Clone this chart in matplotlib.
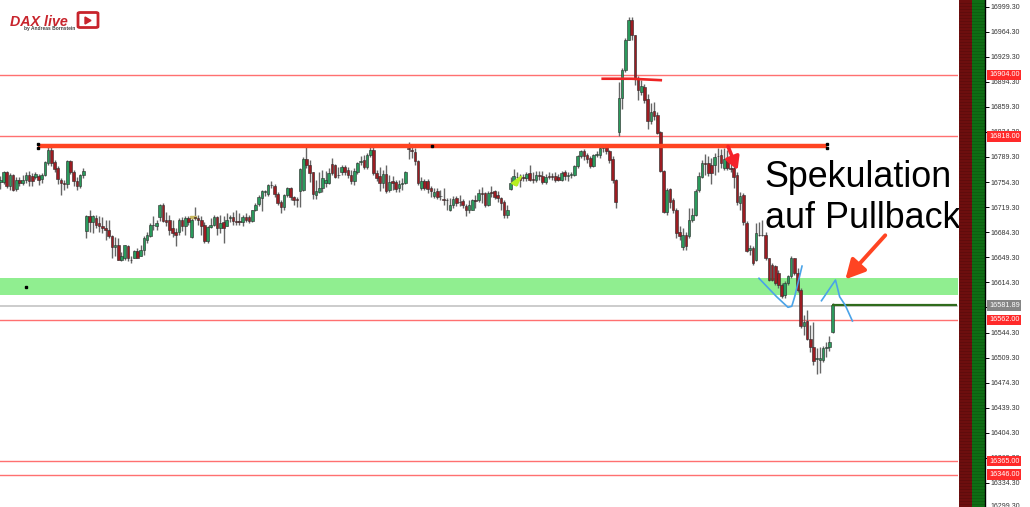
import numpy as np
import matplotlib
matplotlib.use("Agg")
import matplotlib.pyplot as plt
from matplotlib.patches import Polygon, Rectangle, FancyBboxPatch
from matplotlib.transforms import blended_transform_factory

opens = [
16754,16754,16768,16749,16764,16744,16757,16753,16757,16764,
16763,16761,16763,16758,16764,16781,16799,16782,16774,16757,
16753,16751,16784,16768,16756,16749,16764,16686,16707,16698,
16704,16697,16693,16690,16688,16679,16663,16667,16645,16649,
16665,16646,16649,16658,16651,16660,16673,16679,16694,16693,
16705,16722,16701,16701,16690,16684,16684,16701,16693,16704,16677,
16705,16704,16702,16695,16672,16691,16695,16705,16690,16698,16693,
16704,16705,16700,16700,16698,16705,16705,16700,16715,16723,16732,
16740,16737,16750,16749,16737,16726,16719,16736,16746,16733,
16730,16742,16743,16786,16778,16768,16736,16740,16746,16753,
16753,16779,16778,16764,16768,16775,16771,16764,16756,16768,
16782,16785,16775,16792,16799,16767,16763,16753,16765,16743,
16756,16754,16746,16751,16753,16802,16799,16796,16784,16746,
16756,16756,16746,16735,16742,16735,16730,16729,16716,
16722,16732,16726,16728,16721,16716,16716,16729,16729,
16739,16739,16722,16740,16742,16736,16732,16726,16709,
16744,16754,16761,16761,16761,16760,16767,16758,16757,16764,
16763,16754,16763,16763,16763,16761,16757,16768,16763,16764,16764,
16777,16791,16798,16792,16788,16777,16792,16792,16802,16803,
16798,16786,16757,16824,16872,16911,16953,16980,16959,16900,
16880,16887,16870,16840,16854,16848,16824,16770,16712,16744,
16729,16716,16684,16663,16680,16679,16702,16708,16743,
16761,16781,16781,16778,16778,16791,16792,16774,16785,16774,
16774,16764,16725,16736,16697,16659,16662,16646,16681,16681,
16681,16648,16639,16637,16628,16611,16596,16613,16623,16648,
16628,16604,16553,16560,16535,16524,16507,16506,16506,16523,
16524,16545]
closes = [
16757,16768,16749,16764,16743,16757,16753,16757,16764,16756,
16756,16765,16757,16764,16782,16799,16781,16772,16758,16753,
16751,16784,16768,16756,16749,16764,16770,16707,16698,16707,
16695,16693,16690,16688,16679,16663,16667,16646,16651,16666,
16648,16645,16658,16649,16660,16676,16680,16694,16695,16697,
16722,16700,16698,16688,16683,16681,16701,16693,16704,16698,16701,
16704,16702,16693,16672,16691,16695,16705,16690,16697,16690,16702,
16705,16700,16698,16699,16705,16702,16700,16715,16722,16733,16742,
16742,16750,16750,16737,16725,16719,16736,16746,16733,16729,
16729,16772,16786,16778,16767,16737,16742,16746,16760,16757,
16767,16767,16761,16764,16775,16768,16764,16756,16770,16781,
16784,16775,16792,16799,16767,16760,16753,16765,16742,16754,
16753,16744,16751,16753,16768,16800,16798,16784,16753,16756,
16746,16744,16742,16740,16733,16735,16729,16729,16722,
16730,16725,16726,16722,16716,16722,16729,16728,16739,
16738,16722,16739,16739,16733,16732,16725,16708,16716,
16753,16763,16761,16757,16760,16765,16757,16757,16764,16763,
16754,16761,16761,16761,16757,16757,16767,16763,16764,16765,16777,
16791,16798,16791,16786,16777,16792,16793,16802,16803,16798,
16785,16757,16726,16872,16911,16953,16980,16959,16900,16883,
16889,16869,16840,16852,16847,16823,16770,16712,16743,16726,
16715,16683,16679,16680,16665,16702,16708,16742,16763,
16781,16779,16767,16767,16789,16790,16781,16786,16774,16772,
16761,16726,16735,16698,16658,16662,16642,16683,16680,16680,
16648,16618,16617,16613,16610,16595,16613,16623,16648,16628,
16604,16553,16559,16535,16524,16504,16509,16509,16523,16524,
16531,16583]
highs = [
16763,16770,16770,16767,16765,16761,16761,16764,16768,16770,
16767,16768,16765,16767,16784,16803,16805,16785,16777,16760,
16757,16785,16785,16771,16761,16765,16774,16709,16715,16708,
16708,16707,16705,16702,16701,16681,16677,16676,16656,16667,
16667,16651,16659,16662,16667,16679,16684,16697,16707,16702,
16723,16725,16712,16709,16701,16690,16704,16705,16707,16707,16704,
16719,16709,16707,16698,16693,16704,16709,16707,16708,16707,16711,
16709,16712,16715,16711,16709,16711,16709,16716,16725,16736,16743,
16743,16751,16756,16751,16740,16729,16737,16747,16747,16735,
16733,16774,16789,16803,16785,16768,16757,16768,16771,16770,
16774,16788,16779,16775,16778,16778,16775,16771,16774,16782,
16791,16792,16795,16803,16803,16771,16775,16771,16778,16764,
16763,16757,16757,16760,16770,16810,16803,16802,16785,16761,
16758,16758,16749,16746,16746,16743,16746,16732,16732,
16735,16735,16736,16730,16723,16729,16730,16736,16744,
16747,16740,16742,16749,16743,16742,16733,16729,16722,
16761,16772,16768,16765,16765,16768,16778,16768,16770,16770,
16770,16765,16768,16767,16768,16765,16770,16771,16768,16768,16778,
16792,16799,16800,16795,16791,16793,16798,16805,16807,16806,
16799,16791,16758,16894,16914,16956,16984,16984,16959,16903,
16897,16891,16877,16865,16866,16852,16826,16771,16746,16746,
16732,16718,16693,16690,16684,16718,16718,16744,16768,
16785,16793,16791,16788,16795,16802,16800,16802,16799,16785,
16778,16768,16740,16739,16700,16667,16665,16697,16698,16701,
16684,16649,16642,16639,16631,16614,16616,16625,16651,16649,
16634,16606,16569,16576,16555,16559,16523,16524,16526,16531,
16539,16585]
lows = [
16744,16751,16746,16743,16742,16742,16749,16750,16753,16749,
16749,16758,16750,16753,16763,16778,16777,16768,16751,16736,
16743,16746,16765,16749,16743,16746,16760,16676,16684,16683,
16690,16684,16683,16673,16676,16648,16651,16645,16644,16646,
16644,16641,16648,16648,16651,16653,16669,16677,16687,16688,
16700,16698,16693,16680,16677,16665,16681,16686,16681,16694,16676,
16701,16695,16680,16669,16669,16690,16693,16680,16683,16669,16693,
16698,16695,16694,16695,16693,16698,16697,16698,16714,16721,16714,
16735,16735,16746,16733,16722,16711,16715,16733,16729,16722,
16719,16719,16742,16774,16754,16730,16730,16739,16740,16747,
16751,16764,16760,16760,16764,16764,16760,16751,16750,16765,
16778,16772,16772,16789,16764,16756,16742,16746,16739,16740,
16743,16740,16740,16743,16751,16786,16788,16778,16750,16743,
16743,16739,16733,16732,16730,16729,16722,16716,16714,
16718,16721,16721,16718,16707,16711,16715,16718,16726,
16725,16719,16721,16733,16730,16727,16716,16704,16704,
16743,16750,16750,16747,16756,16756,16756,16753,16754,16757,
16751,16751,16758,16757,16754,16756,16756,16757,16756,16760,16763,
16774,16788,16785,16781,16774,16775,16789,16788,16796,16793,
16781,16753,16718,16819,16856,16908,16952,16952,16890,16869,
16876,16865,16828,16835,16841,16821,16768,16711,16709,16718,
16711,16676,16673,16659,16660,16676,16698,16707,16740,
16760,16764,16763,16751,16764,16768,16774,16771,16771,16768,
16746,16722,16715,16694,16656,16652,16639,16644,16679,16679,
16645,16616,16616,16610,16606,16592,16593,16611,16620,16625,
16601,16551,16541,16534,16517,16499,16486,16488,16503,16510,
16518,16544]

tick_prices = [16999.30,16964.30,16929.30,16894.30,16859.30,16824.30,16789.30,
               16754.30,16719.30,16684.30,16649.30,16614.30,16579.30,16544.30,
               16509.30,16474.30,16439.30,16404.30,16369.30,16334.30,16299.30]
level_prices = [16904.00,16818.00,16562.00,16365.00,16346.00]
last_price = 16581.89
zone_low, zone_high = 16596.7, 16620.8
resistance_price = 16804.6
resistance_idx = [11.8, 135.3, 259.1]
stroke1_idx = [237.9, 243.5, 247.0, 248.2, 249.1, 251.4]
stroke1_price = [16620, 16594, 16579.5, 16581, 16594.3, 16637]
stroke2_idx = [257.5, 261.9, 263.2, 265.0, 267.2]
stroke2_price = [16588.7, 16617.6, 16594.3, 16582, 16560.4]

PRICE_TOP, PRICE_BOTTOM = 17008.4, 16300.8
W, H = 1030, 507
plt.rcParams['font.family'] = ['Liberation Sans', 'DejaVu Sans']

fig = plt.figure(figsize=(W/100, H/100), dpi=100, facecolor='white')
ax = fig.add_axes([0, 0, 958/W, 1])
strip = fig.add_axes([959/W, 0, 26/W, 1], sharey=ax)
ax.set_xlim(-0.1, 958/3.19)
ax.set_ylim(PRICE_BOTTOM, PRICE_TOP)
ax.axis('off')

# zones and levels
ax.axhspan(zone_low, zone_high, color='#90ee90', lw=0, zorder=1)
for p in level_prices:
    ax.axhline(p, color='#ff7070', lw=1.0, zorder=1.5)
ax.axhline(last_price, color='#c8c8c8', lw=1.3, zorder=1.5)

# candles
x = np.arange(len(opens))
o, c, h, l = map(np.array, (opens, closes, highs, lows))
assert len(o) == len(c) == len(h) == len(l)
ax.vlines(x, l, h, color='#666666', lw=1.0, zorder=2)
colors = np.where(c >= o, '#2a9a5c', '#9c1c22')
ax.bar(x, np.abs(c-o), bottom=np.minimum(o, c), width=0.82, color=colors,
       edgecolor='#2a2a2a', linewidth=0.4, zorder=3)

# marks
ax.add_patch(Rectangle((59.6, 16703.5), 1.8, 4, color='#c8b860', zorder=2.5))
ax.add_patch(Polygon([(160.3, 16752.6), (163.5, 16763), (161.9, 16748.8)],
                     closed=True, color='#b8f020', zorder=4))
ax.plot([x[-1]-0.3, 300], [last_price+0.7]*2, color='#2f6b1c', lw=1.6, zorder=4,
        solid_capstyle='butt')
ax.plot([resistance_idx[0], resistance_idx[-1]], [resistance_price]*2,
        color='#ff4422', lw=3.2, zorder=5, solid_capstyle='butt')
ax.plot([resistance_idx[0]]*2, [resistance_price+3, resistance_price-3], ls='none',
        marker='s', ms=1.9, color='black', zorder=6)
ax.plot([resistance_idx[-1]]*2, [resistance_price+3, resistance_price-3], ls='none',
        marker='s', ms=1.9, color='black', zorder=6)
ax.plot([resistance_idx[1]], [resistance_price], ls='none', marker='s', ms=1.9,
        color='black', zorder=6)
ax.plot([8.1], [16608], ls='none', marker='s', ms=1.6, color='black', zorder=6)
ax.plot([188.9, 198, 207.1], [16898.5, 16898.5, 16896.5], color='#ee2424', lw=1.9, zorder=5)
ax.plot(stroke1_idx, stroke1_price, color='#4aa3e8', lw=1.2, zorder=6)
ax.plot(stroke2_idx, stroke2_price, color='#4aa3e8', lw=1.2, zorder=6)
ax.annotate('', xy=(231.2, 16771), xytext=(228.2, 16804),
            arrowprops=dict(arrowstyle='-|>,head_width=0.42,head_length=0.75',
                            color='#f5222a', lw=2.6, shrinkA=0, shrinkB=0), zorder=6)
ax.annotate('', xy=(265.0, 16618.5), xytext=(277.5, 16680),
            arrowprops=dict(arrowstyle='-|>,head_width=0.6,head_length=1.15',
                            color='#ff4422', lw=2.8, shrinkA=0, shrinkB=0), zorder=6)
ax.text(239.7, 16747, 'Spekulation', fontsize=25.8, color='black', va='baseline', zorder=7)
ax.text(239.7, 16690, 'auf Pullback', fontsize=25.8, color='black', va='baseline', zorder=7)

# right strip
strip.set_xlim(0, 2)
strip.axvspan(0, 1, color='#6d0e0e', lw=0)
strip.axvspan(1, 2, color='#0f6d14', lw=0)
strip.hlines(np.arange(PRICE_BOTTOM, PRICE_TOP, 4.19), 0, 2, color='black', lw=0.5, alpha=0.18)
strip.set_xticks([])
for s in ['left', 'top', 'bottom']:
    strip.spines[s].set_visible(False)
strip.spines['right'].set_linewidth(1.0)
strip.yaxis.tick_right()
strip.set_yticks(tick_prices[:-1])
strip.set_yticklabels([f'{p:.2f}' for p in tick_prices[:-1]])
strip.tick_params(axis='y', length=3, width=0.7, labelsize=5.0, pad=1.2, labelcolor='#333333')
strip.set_ylim(PRICE_BOTTOM, PRICE_TOP)

tf = blended_transform_factory(fig.transFigure, ax.transData)
fig.text(990/W, 1-506/H, f'{tick_prices[-1]:.2f}', fontsize=5.0, color='#333333', va='center')
for p in level_prices:
    strip.text(989/W, p, f'{p:.2f}', transform=tf, fontsize=5.2, color='white',
               va='center', ha='left', zorder=10, clip_on=False,
               bbox=dict(facecolor='#ff2a2a', edgecolor='none', pad=1.2))
strip.text(989/W, last_price, f'{last_price:.2f}', transform=tf, fontsize=5.2, color='white',
           va='center', ha='left', zorder=10, clip_on=False,
           bbox=dict(facecolor='#858585', edgecolor='none', pad=1.2))

# logo
fig.text(10/W, 1-25.5/H, 'DAX live', fontsize=10.3, color='#c8242c', fontweight='bold',
         style='italic', va='baseline')
fig.text(24/W, 1-30/H, 'by Andreas Bornstein', fontsize=3.5, color='#444444',
         fontweight='bold', va='baseline')
fig.add_artist(FancyBboxPatch((78/W, 1-27.5/H), 20/W, 15/H, transform=fig.transFigure,
                              boxstyle='round,pad=0,rounding_size=0.002',
                              facecolor='white', edgecolor='#c8242c', lw=2.0))
fig.add_artist(Polygon([(85/W, 1-17/H), (85/W, 1-24/H), (91/W, 1-20.5/H)],
                       closed=True, transform=fig.transFigure, color='#c8242c'))

fig.savefig('out.png', dpi=100)
